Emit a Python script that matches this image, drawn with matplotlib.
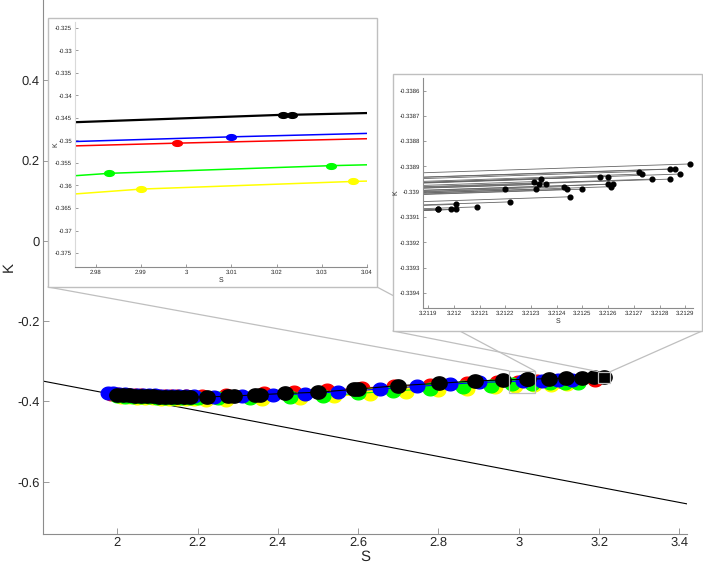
import numpy as np
import matplotlib
matplotlib.use("Agg")
import matplotlib.pyplot as plt
from matplotlib.patches import Rectangle, ConnectionPatch
from matplotlib.path import Path
from matplotlib.ticker import FuncFormatter

plt.rcParams['font.family'] = ['Liberation Sans', 'DejaVu Sans']
plt.rcParams['axes.unicode_minus'] = False
plt.rcParams['text.hinting'] = 'no_hinting'
plt.rcParams['text.hinting_factor'] = 1

#==============================================================================
# data
#==============================================================================
red_S = [1.985, 2.0, 2.015, 2.03, 2.045, 2.06, 2.075, 2.09, 2.105, 2.12, 2.135,
         2.15, 2.17, 2.21, 2.27, 2.365, 2.44, 2.523, 2.61, 2.69, 2.78, 2.87,
         2.946, 2.998, 3.045, 3.10, 3.143, 3.19]
red_K = [-0.381, -0.382, -0.383, -0.384, -0.3845, -0.385, -0.3855, -0.386,
         -0.3865, -0.387, -0.387, -0.3875, -0.3875, -0.387, -0.385, -0.379,
         -0.3755, -0.372, -0.3665, -0.3615, -0.3587, -0.3545, -0.352, -0.3506,
         -0.3495, -0.3485, -0.3478, -0.347]

yellow_S = [2.01, 2.03, 2.05, 2.07, 2.09, 2.11, 2.13, 2.15, 2.17, 2.19, 2.22,
            2.27, 2.36, 2.455, 2.54, 2.63, 2.72, 2.80, 2.87, 2.94, 2.99, 3.037,
            3.08, 3.12]
yellow_K = [-0.389, -0.390, -0.391, -0.392, -0.3925, -0.393, -0.3935, -0.394,
            -0.3945, -0.395, -0.3955, -0.3955, -0.394, -0.391, -0.3875, -0.3805,
            -0.377, -0.372, -0.368, -0.3645, -0.3608, -0.3591, -0.358, -0.357]

green_S = [2.0, 2.02, 2.04, 2.06, 2.08, 2.10, 2.12, 2.14, 2.16, 2.18, 2.20, 2.25,
           2.33, 2.43, 2.513, 2.60, 2.688, 2.78, 2.862, 2.93, 2.983, 3.032, 3.078,
           3.116, 3.148]
green_K = [-0.387, -0.388, -0.389, -0.3895, -0.390, -0.3905, -0.391, -0.3915,
           -0.392, -0.392, -0.3925, -0.3925, -0.391, -0.3895, -0.386, -0.380,
           -0.3736, -0.3686, -0.3645, -0.361, -0.3573, -0.3556, -0.3545, -0.3535,
           -0.3528]

blue_S = [1.977, 1.99, 2.005, 2.02, 2.035, 2.05, 2.065, 2.08, 2.095, 2.11, 2.125,
          2.14, 2.155, 2.17, 2.19, 2.24, 2.31, 2.388, 2.468, 2.55, 2.655, 2.746,
          2.83, 2.90, 3.01, 3.057, 3.099, 3.133]
blue_K = [-0.379, -0.380, -0.381, -0.382, -0.383, -0.3835, -0.384, -0.3845,
          -0.385, -0.3855, -0.386, -0.3865, -0.387, -0.387, -0.3875, -0.388,
          -0.387, -0.3835, -0.381, -0.376, -0.369, -0.3625, -0.357, -0.3525,
          -0.3492, -0.348, -0.3468, -0.3458]

black_S = [2.00, 2.015, 2.03, 2.045, 2.06, 2.075, 2.09, 2.105, 2.12, 2.135, 2.15,
           2.165, 2.18, 2.223, 2.276, 2.29, 2.344, 2.355, 2.418, 2.50, 2.59, 2.60,
           2.70, 2.802, 2.891, 2.96, 3.0215, 3.0235, 3.075, 3.117, 3.157, 3.187,
           3.2125]
black_K = [-0.383, -0.384, -0.385, -0.386, -0.3865, -0.387, -0.3875, -0.388,
           -0.3885, -0.389, -0.389, -0.389, -0.389, -0.3885, -0.387, -0.3865,
           -0.3835, -0.383, -0.380, -0.377, -0.3698, -0.369, -0.3605, -0.3548,
           -0.3488, -0.3465, -0.3443, -0.3443, -0.3431, -0.3421, -0.3410, -0.3400,
           -0.3390]

# straight reference line
ref_S = [1.814, 3.419]
ref_K = [-0.349, -0.655]

# second zoom: end points of the black runs
zoom_S = [3.21194, 3.21194, 3.21199, 3.21201, 3.21201, 3.21209, 3.21220,
          3.21222, 3.21231, 3.21232, 3.21233, 3.21234, 3.21236, 3.21243,
          3.21244, 3.21245, 3.21250, 3.21257, 3.21260, 3.21260, 3.21261,
          3.21262, 3.21272, 3.21273, 3.21277, 3.21284, 3.21284, 3.21286,
          3.21288, 3.21292]
zoom_K = [-0.33907, -0.33907, -0.33907, -0.33905, -0.33907, -0.33906, -0.33899,
          -0.33904, -0.33896, -0.33899, -0.33897, -0.33895, -0.33897, -0.33898,
          -0.33899, -0.33902, -0.33899, -0.33894, -0.33894, -0.33897, -0.33898,
          -0.33897, -0.33892, -0.33893, -0.33895, -0.33891, -0.33895, -0.33891,
          -0.33893, -0.33889]
# where each run's segment enters the zoom window from the left
zoom_edge_S = 3.21188
zoom_edge_K = [-0.339072, -0.339072, -0.339074, -0.339054, -0.339074, -0.339067,
               -0.339001, -0.339052, -0.338975, -0.339005, -0.338985, -0.338966,
               -0.338986, -0.338999, -0.339009, -0.339039, -0.339011, -0.338963,
               -0.338964, -0.338994, -0.339005, -0.338995, -0.338948, -0.338959,
               -0.33898, -0.338942, -0.338982, -0.338943, -0.338964, -0.338925]

series = [(red_S, red_K, (1, 0, 0)),
          (yellow_S, yellow_K, (1, 1, 0)),
          (green_S, green_K, (0, 1, 0)),
          (blue_S, blue_K, (0, 0, 1)),
          (black_S, black_K, (0, 0, 0))]

# window limits
main_xlim = (1.8142, 3.419)
main_ylim = (-0.730, 0.600)
z1_xlim = (2.9754, 3.04)
z1_ylim = (-0.3781, -0.3237)
z2_xlim = (3.21188, 3.21293)
z2_ylim = (-0.33946, -0.33855)
box2_S = (3.1975, 3.2285)
box2_K = (-0.3545, -0.3255)

TXT = '0.15'
SPINE = '0.55'
BORDER = '0.75'

# markers look a bit squashed in the original
t = np.linspace(0, 2 * np.pi, 40)
ellipse = Path(np.column_stack([1.15 * np.cos(t), np.sin(t)]), closed=True)
blob = Path(np.column_stack([1.7 * np.cos(t), np.sin(t)]), closed=True)

def gfmt(v, pos):
    return "%g" % round(v, 6)

def style_axes(ax, fs, ticklen):
    for s in ['top', 'right']:
        ax.spines[s].set_visible(False)
    for s in ['left', 'bottom']:
        ax.spines[s].set_color(SPINE)
        ax.spines[s].set_linewidth(0.8)
    ax.tick_params(direction='in', length=ticklen, width=0.6, color=SPINE,
                   labelsize=fs, labelcolor=TXT, pad=2)
    ax.xaxis.set_major_formatter(FuncFormatter(gfmt))
    ax.yaxis.set_major_formatter(FuncFormatter(gfmt))

#==============================================================================
# main plot
#==============================================================================
fig = plt.figure(figsize=(7.03, 5.70), dpi=100)
ax = fig.add_axes([0.0607, 0.0632, 0.9165, 0.9368])
ax.set_zorder(0)

ax.plot(ref_S, ref_K, color='k', lw=0.8, zorder=2)
for s, k, c in series:
    ms = 11 if c == (0, 0, 0) else 10.5
    ax.plot(s, k, '-', marker=ellipse, color=c, mec=c, mfc=c, ms=ms, lw=0.8,
            zorder=3)

ax.set_xlim(main_xlim)
ax.set_ylim(main_ylim)
ax.set_xticks([2, 2.2, 2.4, 2.6, 2.8, 3, 3.2, 3.4])
ax.set_yticks([-0.6, -0.4, -0.2, 0, 0.2, 0.4])
style_axes(ax, 9, 4)
ax.set_xlabel('S', fontsize=11, color=TXT)
ax.set_ylabel('K', fontsize=11, color=TXT)
ax.xaxis.set_label_coords(0.5, -0.03)
ax.yaxis.set_label_coords(-0.042, 0.5)

# boxes marking the zoomed windows
ax.add_patch(Rectangle((z1_xlim[0], z1_ylim[0]), z1_xlim[1] - z1_xlim[0],
                       z1_ylim[1] - z1_ylim[0], fill=False, ec=BORDER, lw=0.9,
                       zorder=5))
ax.add_patch(Rectangle((box2_S[0], box2_K[0]), box2_S[1] - box2_S[0],
                       box2_K[1] - box2_K[0], fill=False, ec=BORDER, lw=0.9,
                       zorder=5))

W, H = 703.0, 570.0
def fpx(x, y):
    # image pixel (y down) -> figure fraction
    return (x / W, 1 - y / H)

# panel outlines in image pixels: left, top, right, bottom
p1 = (48, 18, 377, 287)
p2 = (393, 74, 702, 331)

# connector lines
for (corner, target) in [((p1[0], p1[3]), (z1_xlim[0], z1_ylim[1])),
                         ((p1[2], p1[3]), (z1_xlim[1], z1_ylim[1])),
                         ((p2[0], p2[3]), (box2_S[0], box2_K[1])),
                         ((p2[2], p2[3]), (box2_S[1], box2_K[1]))]:
    con = ConnectionPatch(xyA=fpx(*corner), coordsA='figure fraction',
                          xyB=target, coordsB=ax.transData,
                          color=BORDER, lw=0.9)
    con.set_zorder(1)
    fig.add_artist(con)

def panel(p, z):
    r = Rectangle(fpx(p[0], p[3]), (p[2] - p[0]) / W, (p[3] - p[1]) / H,
                  transform=fig.transFigure, fc='white', ec=BORDER, lw=1.0)
    r.set_zorder(z)
    fig.add_artist(r)

#==============================================================================
# first zoom
#==============================================================================
panel(p1, 2)
l, b = fpx(75, 267)
ax1 = fig.add_axes([l, b, 292 / W, 245 / H])
ax1.set_zorder(3)
for s, k, c in series:
    lw = 1.6 if c == (0, 0, 0) else 1.1
    ax1.plot(s, k, '-', marker=blob, color=c, mec=c, mfc=c, ms=7, lw=lw)
ax1.set_xlim(z1_xlim)
ax1.set_ylim(z1_ylim)
ax1.set_xticks([2.98, 2.99, 3.0, 3.01, 3.02, 3.03, 3.04])
ax1.set_yticks(np.round(np.arange(-0.375, -0.3249, 0.005), 3))
style_axes(ax1, 4, 2)
ax1.spines['left'].set_color('0.85')
ax1.set_xlabel('S', fontsize=4.8, color=TXT)
ax1.set_ylabel('K', fontsize=4.8, color=TXT)
ax1.xaxis.set_label_coords(0.5, -0.04)
ax1.yaxis.set_label_coords(-0.055, 0.5)

#==============================================================================
# second zoom
#==============================================================================
panel(p2, 4)
l, b = fpx(423, 308)
ax2 = fig.add_axes([l, b, 270 / W, 230 / H])
ax2.set_zorder(5)
for i in range(len(zoom_S)):
    ax2.plot([zoom_edge_S, zoom_S[i]], [zoom_edge_K[i], zoom_K[i]],
             color='0.4', lw=0.6)
ax2.plot(zoom_S, zoom_K, 'o', color='k', ms=3.4, ls='none')
ax2.set_xlim(z2_xlim)
ax2.set_ylim(z2_ylim)
ax2.set_xticks(np.round(np.arange(3.2119, 3.21291, 0.0001), 4))
ax2.set_yticks(np.round(np.arange(-0.3394, -0.33859, 0.0001), 4))
style_axes(ax2, 4, 2)
ax2.set_xlabel('S', fontsize=4.8, color=TXT)
ax2.set_ylabel('K', fontsize=4.8, color=TXT)
ax2.xaxis.set_label_coords(0.5, -0.045)
ax2.yaxis.set_label_coords(-0.09, 0.5)

fig.savefig('out.png', dpi=100)
